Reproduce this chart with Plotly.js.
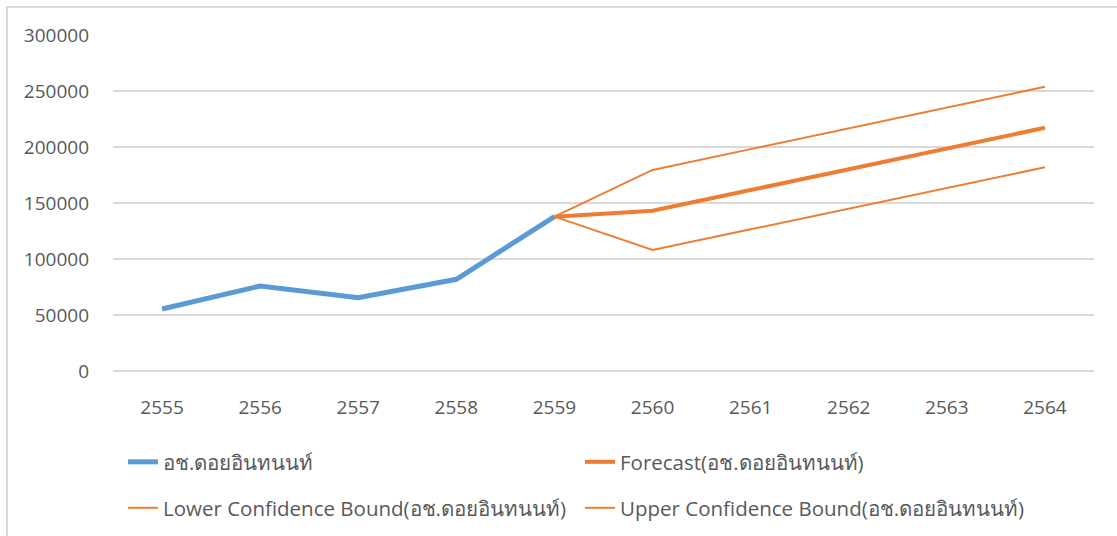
<!DOCTYPE html>
<html>
<head>
<meta charset="utf-8">
<script src="https://cdn.plot.ly/plotly-3.0.1.min.js"></script>
<style>
html,body{margin:0;padding:0;background:#fff;overflow:hidden;}
#chart{width:1117px;height:536px;position:relative;}
#frame{position:absolute;left:6px;top:6px;width:1200px;height:600px;border-left:2px solid #d9d9d9;border-top:2px solid #d9d9d9;pointer-events:none;}
</style>
</head>
<body>
<div id="chart"></div>
<div id="frame"></div>
<script>
const years = ['2555','2556','2557','2558','2559','2560','2561','2562','2563','2564'];
const actualYears = ['2555','2556','2557','2558','2559'];
const actual = [55400, 75900, 65500, 81900, 137800];
const fcYears = ['2559','2560','2561','2562','2563','2564'];
const forecast = [137800, 143100, 161600, 180150, 198700, 217200];
const lower = [137800, 108000, 126500, 144950, 163400, 181900];
const upper = [137800, 179500, 198100, 216650, 235200, 253800];
const yTicks = [0, 50000, 100000, 150000, 200000, 250000, 300000];
const name = 'อช.ดอยอินทนนท์';

const blue = '#5b9bd5', orange = '#ed7d31';
const fam = '"Open Sans", "Noto Sans", sans-serif';
const legFont = {family: fam, size: 20.5, color: '#595959'};

const traces = [
  {x: actualYears, y: actual, name: name, type: 'scatter', mode: 'lines', line: {color: blue, width: 5}, legend: 'legend'},
  {x: fcYears, y: forecast, name: 'Forecast(' + name + ')', type: 'scatter', mode: 'lines', line: {color: orange, width: 4}, legend: 'legend2'},
  {x: fcYears, y: lower, name: 'Lower Confidence Bound(' + name + ')', type: 'scatter', mode: 'lines', line: {color: orange, width: 2}, legend: 'legend3'},
  {x: fcYears, y: upper, name: 'Upper Confidence Bound(' + name + ')', type: 'scatter', mode: 'lines', line: {color: orange, width: 2}, legend: 'legend4'}
];

function leg(xPx, yPx) {
  return {
    orientation: 'h', xref: 'container', yref: 'container',
    xanchor: 'left', yanchor: 'middle',
    x: xPx / 1117, y: 1 - yPx / 536,
    font: legFont, bgcolor: 'rgba(0,0,0,0)', borderwidth: 0
  };
}

const layout = {
  width: 1117, height: 536,
  margin: {l: 113, r: 23, t: 35, b: 165},
  paper_bgcolor: '#ffffff', plot_bgcolor: '#ffffff',
  showlegend: true,
  xaxis: {
    type: 'category', categoryorder: 'array', categoryarray: years,
    tickvals: years, ticktext: years,
    range: [-0.5, 9.5], showgrid: false, zeroline: false, showline: false,
    ticks: '', ticklabelstandoff: 23, tickfont: {family: fam, size: 19, color: '#595959'}, fixedrange: true
  },
  yaxis: {
    range: [0, 300000], tickvals: yTicks, ticktext: yTicks.map(String),
    showgrid: true, gridcolor: '#d9d9d9', gridwidth: 1.5, zeroline: true, zerolinecolor: '#d9d9d9', zerolinewidth: 1.5,
    showline: false, ticks: '', ticklabelstandoff: 23,
    tickfont: {family: fam, size: 19, color: '#595959'}, fixedrange: true
  },
  legend: leg(123, 462),
  legend2: leg(580, 462),
  legend3: leg(123, 508),
  legend4: leg(580, 508)
};

Plotly.newPlot('chart', traces, layout, {displayModeBar: false, staticPlot: true});
</script>
</body>
</html>
